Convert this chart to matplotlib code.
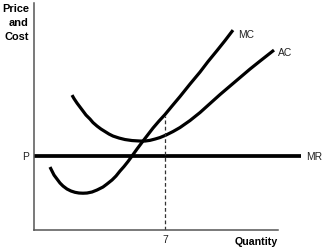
import matplotlib
matplotlib.use("Agg")
import matplotlib.pyplot as plt

# curve points (quantity, price/cost)
mc_q = [0.852, 0.959, 1.066, 1.225, 1.385, 1.545, 1.758, 1.971, 2.184, 2.398,
        2.611, 2.824, 3.090, 3.357, 3.676, 3.889, 4.156, 4.369, 4.582, 4.795,
        5.008, 5.221, 5.488, 5.807, 6.074, 6.340, 6.660, 6.979, 7.352, 7.778,
        8.311, 8.844, 9.270, 9.750, 10.176, 10.602]
mc_c = [3.357, 3.143, 2.930, 2.717, 2.504, 2.344, 2.184, 2.078, 2.009, 1.971,
        1.961, 1.971, 2.025, 2.131, 2.291, 2.451, 2.664, 2.877, 3.143, 3.383,
        3.650, 3.942, 4.315, 4.742, 5.088, 5.434, 5.807, 6.154, 6.606, 7.113,
        7.778, 8.418, 8.977, 9.563, 10.096, 10.655]

ac_q = [2.025, 2.131, 2.291, 2.451, 2.611, 2.770, 2.984, 3.143, 3.357, 3.570,
        3.783, 3.996, 4.209, 4.529, 4.848, 5.221, 5.647, 5.914, 6.180, 6.447,
        6.713, 7.033, 7.406, 7.778, 8.311, 8.844, 9.377, 9.910, 10.442, 10.975,
        11.508, 12.041, 12.414, 12.787]
ac_c = [7.192, 7.006, 6.766, 6.553, 6.340, 6.127, 5.914, 5.727, 5.541, 5.381,
        5.248, 5.115, 5.008, 4.902, 4.822, 4.768, 4.742, 4.742, 4.779, 4.848,
        4.928, 5.061, 5.248, 5.461, 5.834, 6.260, 6.740, 7.219, 7.672, 8.125,
        8.578, 9.004, 9.297, 9.590]

price = 3.94
mr_end = 14.22
q_star = 7
mc_at_q_star = 6.07

plt.rcParams['font.family'] = ['Liberation Sans', 'DejaVu Sans']

fig = plt.figure(figsize=(3.26, 2.51), dpi=100)
ax = fig.add_axes([34 / 326, 20 / 251, 244 / 326, 227 / 251])
ax.set_xlim(0, 13)
ax.set_ylim(0, 12.1)

for side in ['top', 'right']:
    ax.spines[side].set_visible(False)
for side in ['left', 'bottom']:
    ax.spines[side].set_color('#555555')
    ax.spines[side].set_linewidth(1.1)
ax.set_xticks([])
ax.set_yticks([])

curve_kw = dict(color='black', lw=2.3, solid_capstyle='butt', solid_joinstyle='round', clip_on=False)
ax.plot(mc_q, mc_c, **curve_kw)
ax.plot(ac_q, ac_c, **curve_kw)
ax.plot([0, mr_end], [price, price], color='black', lw=2.7, solid_capstyle='butt', clip_on=False)
ax.plot([q_star, q_star], [0, mc_at_q_star], color='#333333', lw=0.9, ls=(0, (3, 2)))

lab = dict(fontsize=7.4, color='#222222', va='center', clip_on=False)
ax.text(mc_q[-1] + 0.3, mc_c[-1] - 0.2, 'MC', ha='left', **lab)
ax.text(ac_q[-1] + 0.2, ac_c[-1] - 0.1, 'AC', ha='left', **lab)
ax.text(mr_end + 0.3, price, 'MR', ha='left', **lab)
ax.text(-0.27, price, 'P', ha='right', **lab)
ax.text(q_star, -0.48, '7', ha='center', **lab)
ax.text(13, -0.59, 'Quantity', fontsize=7.7, fontweight='bold', ha='right', va='center', clip_on=False)
ax.text(-0.27, 12.12, 'Price\nand\nCost', fontsize=7.9, fontweight='bold', ha='right', va='top',
        multialignment='right', linespacing=1.5, clip_on=False)

fig.savefig('out.png', dpi=100)
